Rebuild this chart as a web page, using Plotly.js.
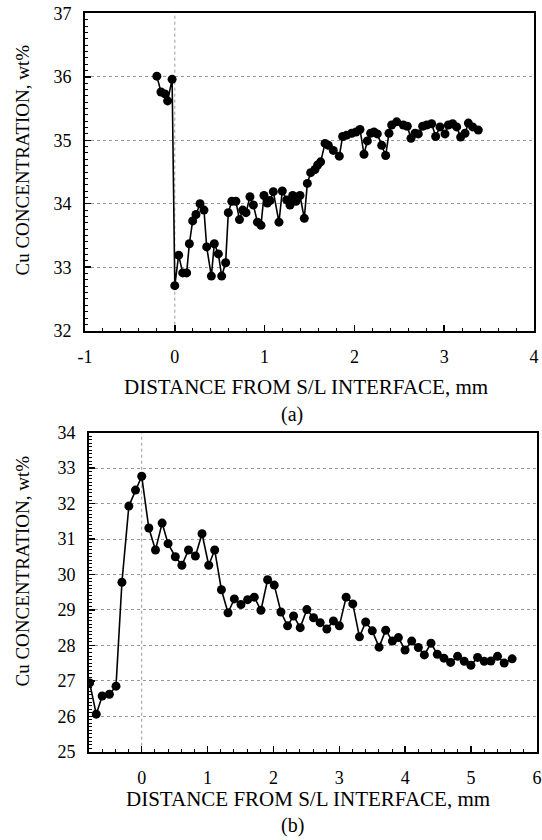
<!DOCTYPE html>
<html>
<head>
<meta charset="utf-8">
<script src="https://cdn.plot.ly/plotly-3.0.1.min.js"></script>
<style>html,body{margin:0;padding:0;background:#fff;}#chart{width:542px;height:840px;}</style>
</head>
<body>
<div id="chart"></div>
<script>
// Panel (a)
var distA = [-0.20,-0.154,-0.11,-0.08,-0.03,0.00,0.043,0.088,0.132,0.162,0.199,0.236,0.281,0.325,0.355,0.407,0.44,0.485,0.522,0.566,0.596,0.635,0.68,0.72,0.756,0.793,0.837,0.875,0.92,0.96,0.993,1.03,1.06,1.097,1.16,1.197,1.246,1.283,1.313,1.35,1.394,1.442,1.476,1.513,1.561,1.591,1.624,1.673,1.71,1.765,1.832,1.869,1.914,1.97,2.018,2.062,2.107,2.144,2.181,2.218,2.255,2.304,2.348,2.385,2.415,2.471,2.545,2.589,2.63,2.675,2.712,2.76,2.805,2.86,2.905,2.953,3.009,3.046,3.094,3.139,3.183,3.232,3.269,3.317,3.38];
var cuA = [36.01,35.76,35.73,35.62,35.96,32.71,33.19,32.91,32.91,33.37,33.73,33.83,34.0,33.9,33.32,32.86,33.37,33.21,32.86,33.07,33.86,34.04,34.04,33.75,33.9,33.86,34.11,33.98,33.71,33.66,34.13,34.01,34.05,34.19,33.71,34.2,34.06,33.98,34.13,34.04,34.13,33.77,34.32,34.49,34.54,34.61,34.66,34.95,34.92,34.84,34.75,35.06,35.08,35.11,35.13,35.17,34.78,34.99,35.11,35.13,35.1,34.92,34.76,35.11,35.24,35.29,35.24,35.22,35.03,35.11,35.10,35.22,35.24,35.26,35.06,35.21,35.10,35.24,35.26,35.21,35.05,35.11,35.27,35.21,35.16];
var xTickValsA = [-1, 0, 1, 2, 3, 4];
var xTickTextA = ["-1", "0", "1", "2", "3", "4"];

// Panel (b)
var distB = [-0.79,-0.69,-0.60,-0.49,-0.39,-0.30,-0.195,-0.094,0.0,0.108,0.209,0.31,0.40,0.51,0.61,0.71,0.815,0.916,1.017,1.108,1.21,1.31,1.406,1.507,1.608,1.709,1.81,1.911,2.012,2.113,2.214,2.305,2.406,2.507,2.608,2.709,2.81,2.91,3.0,3.103,3.204,3.305,3.40,3.50,3.603,3.704,3.805,3.896,3.997,4.098,4.199,4.29,4.391,4.487,4.588,4.689,4.795,4.896,4.997,5.098,5.199,5.30,5.401,5.502,5.623];
var cuB = [26.94,26.06,26.57,26.62,26.85,29.78,31.93,32.38,32.77,31.31,30.69,31.45,30.87,30.5,30.26,30.69,30.52,31.15,30.26,30.69,29.57,28.92,29.31,29.15,29.29,29.36,28.99,29.85,29.70,28.94,28.55,28.83,28.50,29.01,28.78,28.64,28.46,28.69,28.55,29.36,29.17,28.24,28.66,28.41,27.95,28.43,28.12,28.22,27.87,28.12,27.94,27.73,28.06,27.75,27.64,27.52,27.69,27.55,27.44,27.66,27.55,27.56,27.69,27.50,27.62];

var xTitle = "DISTANCE FROM S/L INTERFACE, mm";
var yTitle = "Cu CONCENTRATION, wt%";
var panelLabels = ["(a)", "(b)"];

var FONT = "'Liberation Serif', 'Times New Roman', Times, serif";

function series(x, y, xa, ya) {
  return {
    x: x, y: y, xaxis: xa, yaxis: ya,
    type: "scatter", mode: "lines+markers",
    line: {color: "#000", width: 1.6},
    marker: {color: "#000", size: 9, symbol: "circle"},
    hoverinfo: "x+y"
  };
}

var data = [series(distA, cuA, "x", "y"), series(distB, cuB, "x2", "y2")];

function xAxis(domain, range, anchor) {
  return {
    domain: domain, range: range, anchor: anchor, dtick: 1, tick0: 0,
    ticks: "inside", ticklen: 6, tickwidth: 1.5, tickcolor: "#000",
    showline: true, linewidth: 2, linecolor: "#000", mirror: true,
    showgrid: false, zeroline: false,
    minor: {dtick: 0.2, ticks: "inside", ticklen: 3, tickwidth: 1, tickcolor: "#000", showgrid: false},
    tickfont: {family: FONT, size: 18, color: "#000"},
    ticklabelstandoff: 9
  };
}
function yAxis(domain, range, anchor) {
  return {
    domain: domain, range: range, anchor: anchor, dtick: 1,
    ticks: "inside", ticklen: 6, tickwidth: 1.5, tickcolor: "#000",
    showline: true, linewidth: 2, linecolor: "#000", mirror: true,
    showgrid: true, gridcolor: "#999", gridwidth: 1, griddash: "dot",
    zeroline: false,
    minor: {dtick: 0.1, ticks: "inside", ticklen: 3, tickwidth: 1, tickcolor: "#000", showgrid: false},
    tickfont: {family: FONT, size: 18, color: "#000"},
    ticklabelstandoff: 8
  };
}

var xa = xAxis([85/542, 534/542], [-1, 4], "y");
xa.tickmode = "array";
xa.tickvals = xTickValsA;
xa.ticktext = xTickTextA;

var layout = {
  width: 542, height: 840,
  margin: {l: 0, r: 0, t: 0, b: 0},
  paper_bgcolor: "#fff", plot_bgcolor: "#fff",
  showlegend: false,
  font: {family: FONT, color: "#000"},
  xaxis: xa,
  yaxis: yAxis([1 - 330.7/840, 1 - 13.3/840], [32, 37], "x"),
  xaxis2: xAxis([89/542, 537/542], [-0.8, 6], "y2"),
  yaxis2: yAxis([1 - 751.7/840, 1 - 432.7/840], [25, 34], "x2"),
  shapes: [
    {type: "line", xref: "x", yref: "y domain", x0: 0, x1: 0, y0: 0, y1: 1, layer: "below",
     line: {color: "#999", width: 1, dash: "dot"}},
    {type: "line", xref: "x2", yref: "y2 domain", x0: 0, x1: 0, y0: 0, y1: 1, layer: "below",
     line: {color: "#999", width: 1, dash: "dot"}}
  ],
  annotations: [
    {text: xTitle, xref: "paper", yref: "paper", x: 306/542, y: 1 - 387/840, xanchor: "center", yanchor: "middle", showarrow: false, font: {family: FONT, size: 21, color: "#000"}},
    {text: panelLabels[0], xref: "paper", yref: "paper", x: 292/542, y: 1 - 414/840, xanchor: "center", yanchor: "middle", showarrow: false, font: {family: FONT, size: 20, color: "#000"}},
    {text: yTitle, xref: "paper", yref: "paper", x: 21.5/542, y: 1 - 160/840, xanchor: "center", yanchor: "middle", textangle: -90, showarrow: false, font: {family: FONT, size: 19, color: "#000"}},
    {text: xTitle, xref: "paper", yref: "paper", x: 308/542, y: 1 - 799/840, xanchor: "center", yanchor: "middle", showarrow: false, font: {family: FONT, size: 21, color: "#000"}},
    {text: panelLabels[1], xref: "paper", yref: "paper", x: 292/542, y: 1 - 825/840, xanchor: "center", yanchor: "middle", showarrow: false, font: {family: FONT, size: 20, color: "#000"}},
    {text: yTitle, xref: "paper", yref: "paper", x: 21.5/542, y: 1 - 571/840, xanchor: "center", yanchor: "middle", textangle: -90, showarrow: false, font: {family: FONT, size: 19, color: "#000"}}
  ]
};

Plotly.newPlot("chart", data, layout, {displayModeBar: false, staticPlot: true});
</script>
</body>
</html>
